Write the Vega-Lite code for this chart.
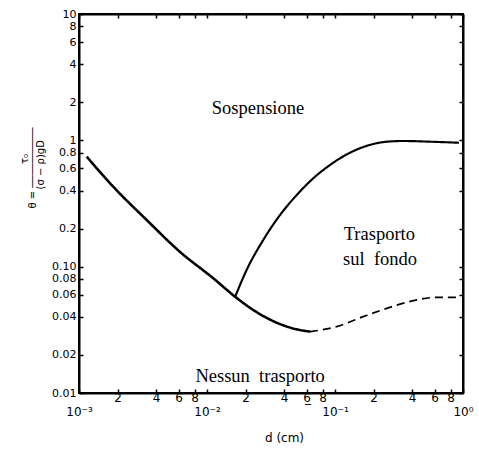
{
  "$schema": "https://vega.github.io/schema/vega-lite/v6.json",
  "width": 384,
  "height": 379,
  "autosize": {"type": "none"},
  "padding": {"left": 79, "top": 14, "right": 16, "bottom": 57},
  "background": "white",
  "config": {
    "view": {"stroke": "black", "strokeWidth": 2},
    "axis": {
      "domainColor": "black", "domainWidth": 2, "tickColor": "black", "tickWidth": 1.5,
      "grid": false, "labelColor": "black", "labelFont": "DejaVu Sans", "labelFontSize": 11,
      "titleColor": "black", "titleFont": "DejaVu Sans", "titleFontWeight": "normal"
    }
  },
  "datasets": {
    "curves": [
      {"series": "main", "d": 0.00115, "theta": 0.742},
      {"series": "main", "d": 0.00185, "theta": 0.43},
      {"series": "main", "d": 0.00338, "theta": 0.234},
      {"series": "main", "d": 0.00615, "theta": 0.131},
      {"series": "main", "d": 0.0112, "theta": 0.0809},
      {"series": "main", "d": 0.0166, "theta": 0.0578},
      {"series": "main", "d": 0.023, "theta": 0.0454},
      {"series": "main", "d": 0.0351, "theta": 0.036},
      {"series": "main", "d": 0.0503, "theta": 0.0319},
      {"series": "main", "d": 0.0638, "theta": 0.0306},
      {"series": "dashed", "d": 0.0638, "theta": 0.0306},
      {"series": "dashed", "d": 0.103, "theta": 0.0335},
      {"series": "dashed", "d": 0.166, "theta": 0.0402},
      {"series": "dashed", "d": 0.254, "theta": 0.0468},
      {"series": "dashed", "d": 0.409, "theta": 0.0538},
      {"series": "dashed", "d": 0.622, "theta": 0.0571},
      {"series": "dashed", "d": 0.918, "theta": 0.0571},
      {"series": "branch", "d": 0.0166, "theta": 0.0578},
      {"series": "branch", "d": 0.0204, "theta": 0.0942},
      {"series": "branch", "d": 0.0275, "theta": 0.1626},
      {"series": "branch", "d": 0.0372, "theta": 0.2564},
      {"series": "branch", "d": 0.0502, "theta": 0.369},
      {"series": "branch", "d": 0.0676, "theta": 0.5003},
      {"series": "branch", "d": 0.0914, "theta": 0.638},
      {"series": "branch", "d": 0.1233, "theta": 0.773},
      {"series": "branch", "d": 0.1663, "theta": 0.885},
      {"series": "branch", "d": 0.199, "theta": 0.935},
      {"series": "branch", "d": 0.2535, "theta": 0.9755},
      {"series": "branch", "d": 0.342, "theta": 0.988},
      {"series": "branch", "d": 0.552, "theta": 0.9755},
      {"series": "branch", "d": 0.93, "theta": 0.957}
    ],
    "labels": [
      {"label": "Sospensione", "d": 0.025, "theta": 1.81},
      {"label": "Trasporto", "d": 0.222, "theta": 0.183},
      {"label": "sul\u00a0\u00a0fondo", "d": 0.225, "theta": 0.114},
      {"label": "Nessun\u00a0\u00a0trasporto", "d": 0.026, "theta": 0.0136}
    ]
  },
  "resolve": {"axis": {"x": "independent", "y": "independent"}},
  "layer": [
    {
      "data": {"name": "curves"},
      "mark": {"type": "line", "color": "black", "strokeCap": "butt", "interpolate": "monotone"},
      "encoding": {
        "x": {
          "field": "d", "type": "quantitative",
          "scale": {"type": "log", "domain": [0.001, 1], "nice": false},
          "axis": {
            "orient": "bottom",
            "values": [0.001, 0.002, 0.004, 0.006, 0.008, 0.01, 0.02, 0.04, 0.06, 0.08, 0.1, 0.2, 0.4, 0.6, 0.8, 1],
            "labelExpr": "datum.value < 0.0015 ? ['', '10⁻³'] : datum.value < 0.0095 ? format(datum.value * 1000, '.0f') : datum.value < 0.015 ? ['', '10⁻²'] : datum.value < 0.055 ? format(datum.value * 100, '.0f') : datum.value < 0.065 ? '6̲' : datum.value < 0.095 ? '8' : datum.value < 0.15 ? ['', '10⁻¹'] : datum.value < 0.95 ? format(datum.value * 10, '.0f') : ['', '10⁰']",
            "tickSize": -4,
            "labelPadding": 3,
            "labelFontSize": 12,
            "labelLineHeight": 14,
            "labelFlush": false,
            "labelOverlap": false,
            "title": "d (cm)",
            "titleFontSize": 12,
            "titleBaseline": "middle",
            "titleX": 205,
            "titleY": 44
          }
        },
        "y": {
          "field": "theta", "type": "quantitative",
          "scale": {"type": "log", "domain": [0.01, 10], "nice": false},
          "axis": {
            "orient": "left",
            "values": [0.01, 0.02, 0.04, 0.06, 0.08, 0.1, 0.2, 0.4, 0.6, 0.8, 1, 2, 4, 6, 8, 10],
            "labelExpr": "datum.value >= 1 ? format(datum.value, 'd') : datum.value >= 0.15 ? format(datum.value, '.1f') : format(datum.value, '.2f')",
            "tickSize": -4,
            "labelPadding": 7,
            "labelFlush": false,
            "labelOverlap": false,
            "title": ["\u200b\u00a0\u00a0\u00a0\u00a0\u00a0\u00a0\u00a0\u00a0\u00a0\u00a0\u00a0\u00a0\u00a0\u00a0τ₀", "θ\u00a0=\u00a0──────────", "\u200b\u00a0\u00a0\u00a0\u00a0\u00a0\u00a0(σ\u00a0−\u00a0ρ)gD"],
            "titleFontSize": 10,
            "titleLineHeight": 8,
            "titleAlign": "left",
            "titleBaseline": "middle",
            "titleAngle": -90,
            "titleX": -55,
            "titleY": 194
          }
        },
        "strokeWidth": {
          "field": "series", "type": "nominal",
          "scale": {"domain": ["main", "branch", "dashed"], "range": [2.6, 1.7, 2.8]},
          "legend": null
        },
        "strokeDash": {
          "field": "series", "type": "nominal",
          "scale": {"domain": ["main", "branch", "dashed"], "range": [[1, 0], [1, 0], [8, 5]]},
          "legend": null
        }
      }
    },
    {
      "data": {"name": "labels"},
      "mark": {"type": "text", "font": "Liberation Serif", "fontSize": 18.5, "color": "black", "align": "center", "baseline": "middle"},
      "encoding": {
        "x": {
          "field": "d", "type": "quantitative",
          "scale": {"type": "log", "domain": [0.001, 1], "nice": false},
          "axis": {"orient": "top", "values": [0.001, 0.002, 0.004, 0.006, 0.008, 0.01, 0.02, 0.04, 0.06, 0.08, 0.1, 0.2, 0.4, 0.6, 0.8, 1], "labels": false, "tickSize": -4, "title": null}
        },
        "y": {
          "field": "theta", "type": "quantitative",
          "scale": {"type": "log", "domain": [0.01, 10], "nice": false},
          "axis": {"orient": "right", "values": [0.01, 0.02, 0.04, 0.06, 0.08, 0.1, 0.2, 0.4, 0.6, 0.8, 1, 2, 4, 6, 8, 10], "labels": false, "tickSize": -4, "title": null}
        },
        "text": {"field": "label", "type": "nominal"}
      }
    }
  ]
}
